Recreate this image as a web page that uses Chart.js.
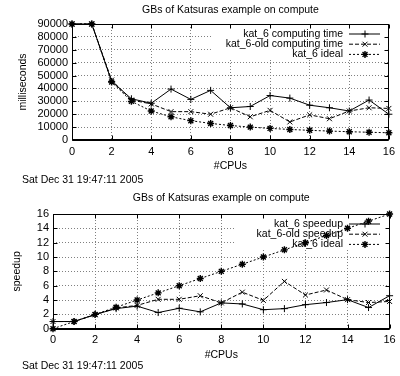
<!DOCTYPE html>
<html><head><meta charset="utf-8">
<script src="https://cdn.jsdelivr.net/npm/chart.js@4.4.0/dist/chart.umd.min.js"></script>
<style>
html,body{margin:0;padding:0;background:#fff;}
#wrap{position:relative;width:400px;height:376px;overflow:hidden;}
canvas{position:absolute;left:0;}
</style></head><body>
<div id="wrap">
<canvas id="c1" width="400" height="188" style="top:0"></canvas>
<canvas id="c2" width="400" height="188" style="top:188px"></canvas>
</div>
<script>
// ---- data ----
const cpus = [0,1,2,3,4,5,6,7,8,9,10,11,12,13,14,15,16];
const timeKat6    = [90000,90000,45500,32000,28500,39500,31500,38500,25000,26000,34500,32500,27000,25000,22500,31000,20000];
const timeKat6Old = [90000,90000,46500,31000,28000,22000,22000,20000,25000,18000,23000,14000,19500,16500,22500,25000,24500];
const timeIdeal   = [90000,90000,45000,30000,22500,18000,15000,12857,11250,10000,9000,8182,7500,6923,6429,6000,5625];
const speedKat6    = [1,1,1.98,2.8,3.15,2.25,2.85,2.35,3.6,3.45,2.65,2.8,3.35,3.65,4.05,2.95,4.6];
const speedKat6Old = [1,1,1.94,2.9,3.25,4.1,4.1,4.6,3.6,5.1,3.95,6.6,4.7,5.4,4.05,3.65,3.8];
const speedIdeal   = [0,1,2,3,4,5,6,7,8,9,10,11,12,13,14,15,16];
const xTicks = [0,2,4,6,8,10,12,14,16];
const timeTicks = [0,10000,20000,30000,40000,50000,60000,70000,80000,90000];
const speedTicks = [0,2,4,6,8,10,12,14,16];
const titleText = 'GBs of Katsuras example on compute';
const dateText = 'Sat Dec 31 19:47:11 2005';
const timeLabels = ['kat_6 computing time','kat_6-old computing time','kat_6 ideal'];
const speedLabels = ['kat_6 speedup','kat_6-old speedup','kat_6 ideal'];

// ---- styling ----
const FAM = '"Liberation Sans", Arial, Helvetica, sans-serif';
const textFont = {family: FAM, size: 10.5};
const tickFont = {family: FAM, size: 11};
const STYLES = [
  {borderDash: [], pointStyle: 'cross', pointRadius: 3.5, pointBorderWidth: 1},
  {borderDash: [4,2], pointStyle: 'crossRot', pointRadius: 3.5, pointBorderWidth: 1},
  {borderDash: [2,2], pointStyle: 'star', pointRadius: 3.5, pointBorderWidth: 1.4}
];

function makeDatasets(labels, series) {
  return series.map((arr, i) => Object.assign({
    label: labels[i],
    data: cpus.map((c, j) => ({x: c, y: arr[j]})),
    borderColor: '#000',
    pointBorderColor: '#000',
    pointBackgroundColor: '#000',
    borderWidth: 1,
    tension: 0,
    fill: false,
    clip: false
  }, STYLES[i]));
}

function gnuPlugin(cfg) {
  return {
    id: 'gnu',
    beforeDatasetsDraw(chart) {
      const ctx = chart.ctx, ca = chart.chartArea;
      ctx.save();
      ctx.fillStyle = '#fff';
      ctx.fillRect(cfg.keyLeft, ca.top + 1, ca.right - 1 - cfg.keyLeft, cfg.keyDepth);
      ctx.font = textFont.size + 'px ' + FAM;
      ctx.fillStyle = '#000';
      ctx.textAlign = 'right';
      ctx.textBaseline = 'middle';
      chart.data.datasets.forEach((ds, i) => {
        const y = ca.top + 10 + 10.2 * i;
        ctx.fillText(ds.label, 343, y);
        ctx.strokeStyle = '#000';
        ctx.lineWidth = ds.borderWidth;
        ctx.setLineDash(ds.borderDash || []);
        ctx.beginPath(); ctx.moveTo(349, y); ctx.lineTo(380, y); ctx.stroke();
        ctx.setLineDash([]);
        ctx.lineWidth = ds.pointBorderWidth;
        Chart.helpers.drawPoint(ctx, {pointStyle: ds.pointStyle, radius: ds.pointRadius, rotation: 0, borderWidth: ds.pointBorderWidth}, 365, y);
      });
      ctx.restore();
    },
    afterDatasetsDraw(chart) {
      const ctx = chart.ctx, ca = chart.chartArea;
      const xs = chart.scales.x, ys = chart.scales.y;
      ctx.save();
      ctx.setLineDash([]);
      ctx.strokeStyle = '#000';
      ctx.lineWidth = 1;
      const L = Math.round(ca.left) + 0.5, R = Math.round(ca.right) - 0.5;
      const T = Math.round(ca.top) + 0.5, B = Math.round(ca.bottom) - 0.5;
      ctx.strokeRect(L, T, R - L, B - T);
      ctx.beginPath(); ctx.moveTo(L, B + 1); ctx.lineTo(R, B + 1); ctx.stroke();
      ctx.beginPath();
      xs.ticks.forEach(t => {
        const p = Math.round(xs.getPixelForValue(t.value)) + 0.5;
        ctx.moveTo(p, B); ctx.lineTo(p, B - 4);
        ctx.moveTo(p, T); ctx.lineTo(p, T + 4);
      });
      ys.ticks.forEach(t => {
        const p = Math.round(ys.getPixelForValue(t.value)) + 0.5;
        ctx.moveTo(L, p); ctx.lineTo(L + 4, p);
        ctx.moveTo(R, p); ctx.lineTo(R - 4, p);
      });
      ctx.stroke();
      ctx.fillStyle = '#000';
      ctx.font = textFont.size + 'px ' + FAM;
      ctx.textBaseline = 'middle';
      ctx.textAlign = 'center';
      ctx.fillText(titleText, (ca.left + ca.right) / 2, 10);
      ctx.textAlign = 'left';
      ctx.fillText(dateText, 22, cfg.dateY);
      ctx.restore();
    }
  };
}

function makeChart(id, labels, series, yTicks, yMax, yTitle, lay) {
  return new Chart(document.getElementById(id), {
    type: 'line',
    data: {datasets: makeDatasets(labels, series)},
    options: {
      responsive: false,
      animation: false,
      devicePixelRatio: 1,
      events: [],
      layout: {padding: {left: 0, right: lay.right, top: lay.top, bottom: 0}},
      plugins: {legend: {display: false}, title: {display: false}, tooltip: {enabled: false}},
      scales: {
        x: {
          type: 'linear', min: 0, max: 16,
          afterBuildTicks: s => { s.ticks = xTicks.map(v => ({value: v})); },
          afterFit: s => { s.height = lay.xHeight; },
          ticks: {font: tickFont, color: '#000', padding: lay.xPad, maxRotation: 0, autoSkip: false, callback: v => String(v)},
          grid: {color: '#808080', lineWidth: 1, drawTicks: false},
          border: {display: false, dash: [1, 2]},
          title: {display: true, text: '#CPUs', font: textFont, color: '#000', padding: {top: 0, bottom: lay.xTitlePad}}
        },
        y: {
          type: 'linear', min: 0, max: yMax,
          afterBuildTicks: s => { s.ticks = yTicks.map(v => ({value: v})); },
          afterFit: s => { s.width = lay.yWidth; },
          ticks: {font: tickFont, color: '#000', padding: 4, autoSkip: false, callback: v => String(v)},
          grid: {color: '#808080', lineWidth: 1, drawTicks: false},
          border: {display: false, dash: [1, 2]},
          title: {display: true, text: yTitle, font: textFont, color: '#000', padding: {top: lay.yTitlePad, bottom: 0}}
        }
      }
    },
    plugins: [gnuPlugin(lay)]
  });
}

makeChart('c1', timeLabels, [timeKat6, timeKat6Old, timeIdeal], timeTicks, 90000, 'milliseconds',
  {right: 8, top: 24, xHeight: 48, xPad: 5, xTitlePad: 16, yWidth: 72, yTitlePad: 16.5, keyLeft: 212, keyDepth: 33, dateY: 180});
makeChart('c2', speedLabels, [speedKat6, speedKat6Old, speedIdeal], speedTicks, 16, 'speedup',
  {right: 7, top: 26, xHeight: 47.3, xPad: 4.3, xTitlePad: 14.5, yWidth: 53, yTitlePad: 11, keyLeft: 236, keyDepth: 34, dateY: 178.5});
</script>
</body></html>
